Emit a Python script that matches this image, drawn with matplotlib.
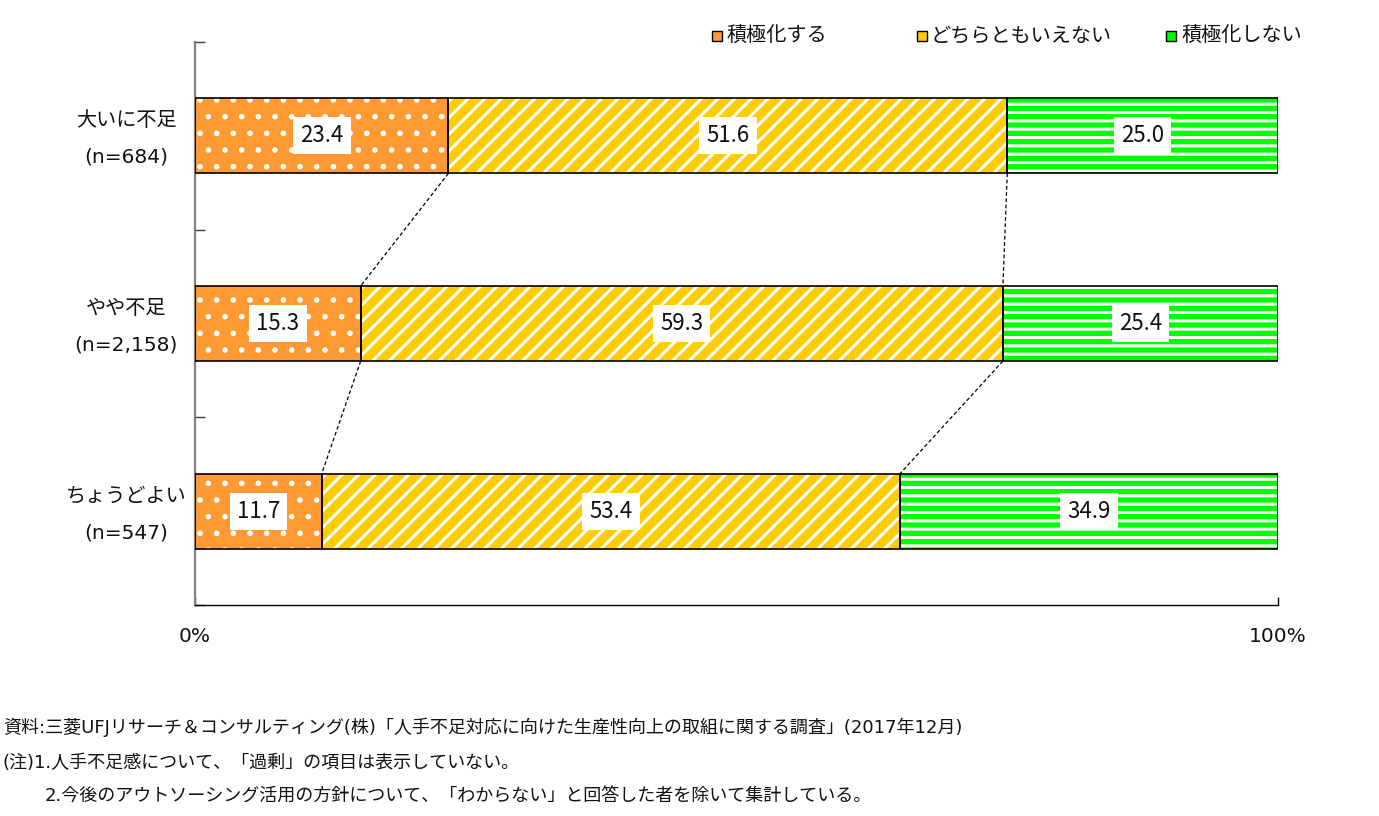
import matplotlib
matplotlib.use('Agg')
import matplotlib.pyplot as plt
import matplotlib.transforms as mtransforms
from matplotlib.patches import Rectangle
import numpy as np

plt.rcParams['font.family'] = ['Noto Sans CJK JP', 'DejaVu Sans']
MIXED = ['DejaVu Sans', 'Noto Sans CJK JP']

# ---- data ----
categories = ['大いに不足\n(n=684)', 'やや不足\n(n=2,158)', 'ちょうどよい\n(n=547)']
series_names = ['積極化する', 'どちらともいえない', '積極化しない']
positive = [23.4, 15.3, 11.7]
neutral = [51.6, 59.3, 53.4]
negative = [25.0, 25.4, 34.9]
x_ticks = [0, 100]
x_tick_labels = ['0%', '100%']
notes = [
    '資料:三菱UFJリサーチ＆コンサルティング(株)「人手不足対応に向けた生産性向上の取組に関する調査」(2017年12月)',
    '(注)1.人手不足感について、「過剰」の項目は表示していない。',
    '2.今後のアウトソーシング活用の方針について、「わからない」と回答した者を除いて集計している。',
]

colors = ['#FF9933', '#FFCC00', '#00FF00']
hatches = ['.', '//', '--']
hatch_lw = [1.6, 2.2, 2.2]

W, H = 1379, 816
fig = plt.figure(figsize=(W / 100, H / 100), dpi=100)
ax = fig.add_axes([195 / W, 1 - 605 / H, (1278 - 195) / W, (605 - 42) / H])

y = np.arange(len(categories))
data = [positive, neutral, negative]
left = np.zeros(len(categories))
bar_h = 0.4
for vals, c, h, hl in zip(data, colors, hatches, hatch_lw):
    vals = np.array(vals)
    ax.barh(y, vals, left=left, height=bar_h, color=c, edgecolor='none', lw=0, zorder=2)
    with plt.rc_context({'hatch.linewidth': hl}):
        bars = ax.barh(y, vals, left=left, height=bar_h, facecolor='none',
                       edgecolor='white', lw=0, hatch=h, zorder=3)
        for b in bars:
            if hasattr(b, 'set_hatch_linewidth'):
                b.set_hatch_linewidth(hl)
    ax.barh(y, vals, left=left, height=bar_h, facecolor='none', edgecolor='black', lw=1.2, zorder=4)
    for yi, v, l in zip(y, vals, left):
        ax.text(l + v / 2, yi, f'{v:.1f}', ha='center', va='center', fontsize=16,
                color='#111111',
                bbox=dict(boxstyle='square,pad=0.32', fc='white', ec='none'), zorder=5)
    left = left + vals

# connector lines
cum1 = np.array(positive)
cum2 = np.array(positive) + np.array(neutral)
for cum in (cum1, cum2):
    for i in range(len(categories) - 1):
        ax.plot([cum[i], cum[i + 1]], [y[i] + bar_h / 2, y[i + 1] - bar_h / 2],
                color='black', lw=0.9, ls=(0, (3, 2)), zorder=1)

ax.set_xlim(0, 100)
ax.set_ylim(2.5, -0.5)
ax.set_xticks(x_ticks, x_tick_labels)
ax.set_yticks(y, categories)
ax.set_yticks([-0.5, 0.5, 1.5, 2.5], minor=True)
ax.tick_params(axis='y', which='major', length=0, pad=18)
shift_up = mtransforms.ScaledTranslation(0, 8 / 100, fig.dpi_scale_trans)
for t in ax.get_yticklabels():
    t.set_family(MIXED)
    t.set_fontsize(14.5)
    t.set_color('#111111')
    t.set_multialignment('center')
    t.set_linespacing(2.2)
    t.set_horizontalalignment('center')
    t.set_x(-0.0404)
    t.set_transform(t.get_transform() + shift_up)
ax.tick_params(axis='y', which='minor', direction='in', length=7, width=1, color='#404040')
ax.tick_params(axis='x', direction='in', length=6, width=1, pad=16)
for t in ax.get_xticklabels():
    t.set_family(MIXED)
    t.set_fontsize(14.5)
    t.set_color('#111111')
for s in ('top', 'right'):
    ax.spines[s].set_visible(False)
ax.spines['left'].set_color('#808080')
ax.spines['left'].set_linewidth(1.6)
ax.spines['bottom'].set_color('black')
ax.spines['bottom'].set_linewidth(1.0)

# legend (manual layout)
legend_marker_x = [712, 917, 1166]
legend_text_x = [727, 931, 1182]
for name, c, mx, tx in zip(series_names, colors, legend_marker_x, legend_text_x):
    fig.add_artist(Rectangle((mx / W, 1 - 41 / H), 10 / W, 10 / H, transform=fig.transFigure,
                             facecolor=c, edgecolor='black', lw=1))
    fig.text(tx / W, 1 - 36 / H, name, fontsize=14.5, va='center', ha='left', color='#111111')

fig.text(3 / W, 1 - 727 / H, notes[0], fontsize=13, va='center', ha='left', family=MIXED, color='#111111')
fig.text(3 / W, 1 - 763 / H, notes[1], fontsize=13, va='center', ha='left', family=MIXED, color='#111111')
fig.text(45 / W, 1 - 797 / H, notes[2], fontsize=13, va='center', ha='left', family=MIXED, color='#111111')

fig.savefig('out.png', dpi=100)
